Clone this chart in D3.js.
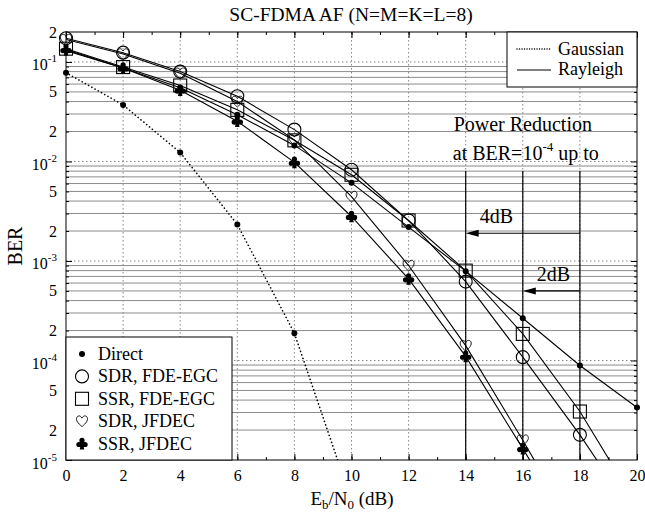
<!DOCTYPE html>
<html lang="en">
<head>
  <meta charset="utf-8">
  <title>SC-FDMA AF BER</title>
  <script type="text/javascript" src="https://cdnjs.cloudflare.com/ajax/libs/d3/7.8.5/d3.min.js"></script>
  <style>
    body { margin: 0; background: #fff; }
    svg { font-family: "Liberation Serif", "Times New Roman", serif; }
  </style>
</head>
<body>
<script type="text/javascript">
  // data
  var snr = [0, 2, 4, 6, 8, 10, 12, 14, 16, 18, 20];
  var gaussDirect = [0.078, 0.037, 0.0123, 2.33e-3, 1.88e-4, 3.9e-6];
  var rayDirect = [0.13, 0.087, 0.055, 0.0295, 0.0145, 6.1e-3, 2.19e-3, 7.9e-4, 2.66e-4, 8.9e-5, 3.37e-5];
  var sdrEgc = [0.173, 0.124, 0.080, 0.0452, 0.0209, 8.26e-3, 2.55e-3, 6.2e-4, 1.08e-4, 1.79e-5, 2.5e-6];
  var ssrEgc = [0.136, 0.0888, 0.058, 0.033, 0.0163, 7.35e-3, 2.55e-3, 8.0e-4, 1.85e-4, 3.07e-5, 3.5e-6];
  var sdrJfdec = [0.168, 0.12, 0.077, 0.04, 0.0165, 4.44e-3, 9.0e-4, 1.41e-4, 1.58e-5, 1.6e-6];
  var ssrJfdec = [0.133, 0.087, 0.052, 0.0254, 9.8e-3, 2.8e-3, 6.6e-4, 1.1e-4, 1.3e-5, 1.5e-6];

  var xTicks = [0, 2, 4, 6, 8, 10, 12, 14, 16, 18, 20];
  var yLabelTicks = [0.2, 1e-1, 5e-2, 2e-2, 1e-2, 5e-3, 2e-3, 1e-3, 5e-4, 2e-4, 1e-4, 5e-5, 2e-5, 1e-5];
  var decades = [1e-1, 1e-2, 1e-3, 1e-4];

  var legendNames = ["Direct", "SDR, FDE-EGC", "SSR, FDE-EGC", "SDR, JFDEC", "SSR, JFDEC"];
  var legendMarks = ["dot", "circle", "square", "heart", "club"];

  // power reduction annotation
  var refSnr = 18, gainSnr = [14, 16], gainBer = [1.9e-3, 5e-4], gainText = ["4dB", "2dB"];

  var width = 645, height = 513;
  var pl = 66, pr = 637, pt = 32, pb = 460;

  var x = d3.scaleLinear().domain([0, 20]).range([pl, pr]);
  var y = d3.scaleLog().domain([1e-5, 0.2]).range([pb, pt]);

  var svg = d3.select("body").append("svg")
    .attr("width", width)
    .attr("height", height);

  svg.append("clipPath").attr("id", "plotclip")
    .append("rect").attr("x", pl).attr("y", pt).attr("width", pr - pl).attr("height", pb - pt);

  // minor values for grid / ticks
  var minor = [];
  [-5, -4, -3, -2, -1].forEach(function (e) {
    for (var m = 2; m <= 9; m++) {
      var v = m * Math.pow(10, e);
      if (v < 0.2 - 1e-9) minor.push(v);
    }
  });

  var grid = svg.append("g");
  grid.selectAll(".hminor").data(minor).enter().append("line")
    .attr("x1", pl).attr("x2", pr)
    .attr("y1", function (d) { return y(d); }).attr("y2", function (d) { return y(d); })
    .attr("stroke", "#8c8c8c").attr("stroke-width", 1);
  grid.selectAll(".hmajor").data(decades).enter().append("line")
    .attr("x1", pl).attr("x2", pr)
    .attr("y1", function (d) { return y(d); }).attr("y2", function (d) { return y(d); })
    .attr("stroke", "#888").attr("stroke-width", 1).attr("stroke-dasharray", "1.5,2.5");
  grid.selectAll(".vmajor").data(xTicks.slice(1, -1)).enter().append("line")
    .attr("y1", pt).attr("y2", pb)
    .attr("x1", function (d) { return x(d); }).attr("x2", function (d) { return x(d); })
    .attr("stroke", "#888").attr("stroke-width", 1).attr("stroke-dasharray", "1.5,2.5");

  // axes
  var xMinor = d3.range(1, 20, 1);
  function styleAxis(g) {
    g.select(".domain").remove();
    g.selectAll("line").attr("stroke", "#000");
    g.selectAll("text").attr("fill", "#000").attr("font-family", "Liberation Serif").attr("font-size", 16);
  }
  svg.append("g").attr("transform", "translate(0," + pb + ")")
    .call(d3.axisBottom(x).tickValues(xTicks).tickSize(-6).tickPadding(10).tickFormat(d3.format("d")))
    .call(styleAxis);
  svg.append("g").attr("transform", "translate(0," + pb + ")")
    .call(d3.axisBottom(x).tickValues(xMinor).tickSize(-3).tickFormat(""))
    .call(styleAxis);
  svg.append("g").attr("transform", "translate(0," + pt + ")")
    .call(d3.axisTop(x).tickValues(xTicks).tickSize(-6).tickFormat(""))
    .call(styleAxis);
  svg.append("g").attr("transform", "translate(0," + pt + ")")
    .call(d3.axisTop(x).tickValues(xMinor).tickSize(-3).tickFormat(""))
    .call(styleAxis);

  svg.append("g").attr("transform", "translate(" + pl + ",0)")
    .call(d3.axisLeft(y).tickValues(decades.concat([1e-5])).tickSize(-6).tickFormat(""))
    .call(styleAxis);
  svg.append("g").attr("transform", "translate(" + pl + ",0)")
    .call(d3.axisLeft(y).tickValues(minor).tickSize(-3).tickFormat(""))
    .call(styleAxis);
  svg.append("g").attr("transform", "translate(" + pr + ",0)")
    .call(d3.axisRight(y).tickValues(decades).tickSize(-6).tickFormat(""))
    .call(styleAxis);
  svg.append("g").attr("transform", "translate(" + pr + ",0)")
    .call(d3.axisRight(y).tickValues(minor).tickSize(-3).tickFormat(""))
    .call(styleAxis);

  // y labels: mantissa or 10^e
  var yLab = svg.append("g").attr("font-size", 16);
  yLabelTicks.forEach(function (v) {
    var e = Math.round(Math.log10(v));
    var isDec = Math.abs(v - Math.pow(10, e)) < 1e-12;
    var t = yLab.append("text").attr("x", 57).attr("text-anchor", "end");
    if (isDec) {
      t.attr("y", y(v) + 8.5);
      t.append("tspan").text("10");
      t.append("tspan").attr("font-size", 11).attr("dy", -8).text(String(e));
    } else {
      t.attr("y", y(v) + 5.5).text(String(Math.round(v / Math.pow(10, Math.floor(Math.log10(v))))));
    }
  });

  // frame
  svg.append("rect").attr("x", pl).attr("y", pt).attr("width", pr - pl).attr("height", pb - pt)
    .attr("fill", "none").attr("stroke", "#000").attr("stroke-width", 1);

  // annotation: vertical lines and arrows
  var ann = svg.append("g");
  [14, 16, 18].forEach(function (s) {
    ann.append("line").attr("x1", x(s)).attr("x2", x(s))
      .attr("y1", y(8e-3)).attr("y2", pb).attr("stroke", "#000").attr("stroke-width", 1.2);
  });
  gainSnr.forEach(function (s, i) {
    var yy = y(gainBer[i]);
    ann.append("line").attr("x1", x(refSnr)).attr("x2", x(s) + 10)
      .attr("y1", yy).attr("y2", yy).attr("stroke", "#000").attr("stroke-width", 1.2);
    ann.append("path")
      .attr("d", "M" + x(s) + "," + yy + "L" + (x(s) + 13) + "," + (yy - 3.5) + "L" + (x(s) + 13) + "," + (yy + 3.5) + "Z")
      .attr("fill", "#000");
    ann.append("text").attr("x", x(s) + 14).attr("y", yy - 10).attr("font-size", 20).text(gainText[i]);
  });
  ann.append("text").attr("x", x(16)).attr("y", 131).attr("text-anchor", "middle").attr("font-size", 20)
    .text("Power Reduction");
  var at = ann.append("text").attr("x", x(16) + 3).attr("y", 160).attr("text-anchor", "middle").attr("font-size", 20);
  at.append("tspan").text("at BER=10");
  at.append("tspan").attr("font-size", 13).attr("dy", -9).text("-4");
  at.append("tspan").attr("dy", 9).text(" up to");

  // curves
  var line = d3.line()
    .x(function (d, i) { return x(snr[i]); })
    .y(function (d) { return y(d); });

  var curves = svg.append("g").attr("clip-path", "url(#plotclip)");
  curves.append("path").attr("d", line(gaussDirect)).attr("fill", "none")
    .attr("stroke", "#000").attr("stroke-width", 1.6).attr("stroke-dasharray", "0.1,3.6").attr("stroke-linecap", "round");
  var rayleigh = [rayDirect, sdrEgc, ssrEgc, sdrJfdec, ssrJfdec];
  rayleigh.forEach(function (s) {
    curves.append("path").attr("d", line(s)).attr("fill", "none")
      .attr("stroke", "#000").attr("stroke-width", 1.1);
  });

  // markers
  function clubPath() {
    var r = 2.6, c = [[0, -3.2], [-3.1, 0.9], [3.1, 0.9]], p = "";
    c.forEach(function (q) {
      p += "M" + (q[0] - r) + "," + q[1] + "a" + r + "," + r + " 0 1,0 " + 2 * r + ",0a" + r + "," + r + " 0 1,0 " + (-2 * r) + ",0";
    });
    return p + "M-0.8,-0.5L-2.3,5.8L2.3,5.8L0.8,-0.5Z";
  }
  var heartD = "M0,5.5C-2,3.5 -6,0.5 -5.5,-2.8C-5,-6 -1.5,-6.2 0,-3C1.5,-6.2 5,-6 5.5,-2.8C6,0.5 2,3.5 0,5.5Z";
  function drawMark(g, type, cx, cy) {
    if (type === "dot") {
      g.append("circle").attr("cx", cx).attr("cy", cy).attr("r", 3).attr("fill", "#000");
    } else if (type === "circle") {
      g.append("circle").attr("cx", cx).attr("cy", cy).attr("r", 6.5).attr("fill", "none").attr("stroke", "#000").attr("stroke-width", 1.1);
    } else if (type === "square") {
      g.append("rect").attr("x", cx - 6.5).attr("y", cy - 6.5).attr("width", 13).attr("height", 13)
        .attr("fill", "none").attr("stroke", "#000").attr("stroke-width", 1.1);
    } else if (type === "heart") {
      g.append("path").attr("transform", "translate(" + cx + "," + cy + ")").attr("d", heartD)
        .attr("fill", "none").attr("stroke", "#000").attr("stroke-width", 0.9);
    } else if (type === "club") {
      g.append("path").attr("transform", "translate(" + cx + "," + cy + ")").attr("d", clubPath()).attr("fill", "#000");
    }
  }
  var marks = svg.append("g");
  var allSeries = [gaussDirect, rayDirect, sdrEgc, ssrEgc, sdrJfdec, ssrJfdec];
  var allTypes = ["dot", "dot", "circle", "square", "heart", "club"];
  allSeries.forEach(function (s, k) {
    s.forEach(function (v, i) {
      if (v >= 1e-5) drawMark(marks, allTypes[k], x(snr[i]), y(v));
    });
  });

  // legend: line styles
  var lg1 = svg.append("g");
  lg1.append("rect").attr("x", 507).attr("y", pt).attr("width", pr - 507).attr("height", 55)
    .attr("fill", "#fff").attr("stroke", "#000").attr("stroke-width", 1);
  lg1.append("line").attr("x1", 517).attr("x2", 551).attr("y1", 49).attr("y2", 49)
    .attr("stroke", "#000").attr("stroke-width", 1.4).attr("stroke-dasharray", "0.1,2.4").attr("stroke-linecap", "round");
  lg1.append("line").attr("x1", 517).attr("x2", 551).attr("y1", 70).attr("y2", 70)
    .attr("stroke", "#000").attr("stroke-width", 1.2);
  lg1.append("text").attr("x", 558).attr("y", 55).attr("font-size", 18).text("Gaussian");
  lg1.append("text").attr("x", 558).attr("y", 75).attr("font-size", 18).text("Rayleigh");

  // legend: markers
  var lg2 = svg.append("g");
  lg2.append("rect").attr("x", pl).attr("y", 337).attr("width", 232 - pl).attr("height", pb - 337)
    .attr("fill", "#fff").attr("stroke", "#000").attr("stroke-width", 1);
  legendNames.forEach(function (n, i) {
    var yy = 360 + i * 22.4;
    drawMark(lg2, legendMarks[i], 82, yy - 6);
    lg2.append("text").attr("x", 98).attr("y", yy).attr("font-size", 18).text(n);
  });

  // titles
  svg.append("text").attr("x", 351).attr("y", 21).attr("text-anchor", "middle").attr("font-size", 19.5)
    .text("SC-FDMA AF (N=M=K=L=8)");
  svg.append("text").attr("transform", "translate(22,246) rotate(-90)").attr("text-anchor", "middle")
    .attr("font-size", 20).text("BER");
  var xl = svg.append("text").attr("x", 352).attr("y", 505).attr("text-anchor", "middle").attr("font-size", 19);
  xl.append("tspan").text("E");
  xl.append("tspan").attr("font-size", 13).attr("dy", 4).text("b");
  xl.append("tspan").attr("dy", -4).text("/N");
  xl.append("tspan").attr("font-size", 13).attr("dy", 4).text("0");
  xl.append("tspan").attr("dy", -4).text(" (dB)");
</script>
</body>
</html>
